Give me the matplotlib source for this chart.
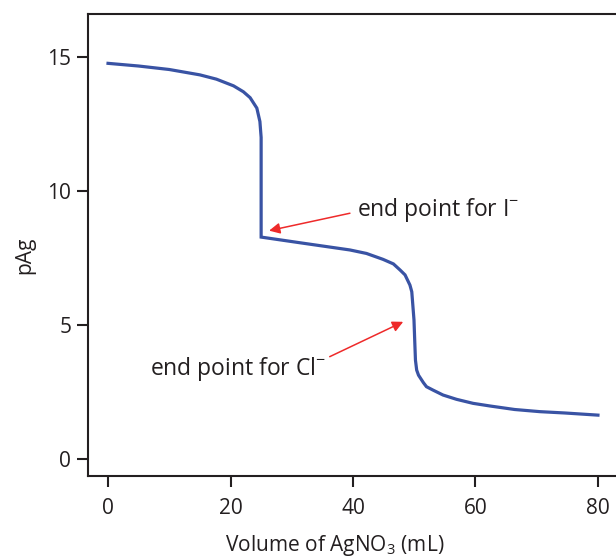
import matplotlib
matplotlib.use('Agg')
import matplotlib.pyplot as plt

plt.rcParams['font.family'] = ['Open Sans', 'DejaVu Sans']
plt.rcParams['mathtext.default'] = 'regular'

# values
volume = [0, 5, 10, 15, 17.7, 20.5, 22.1, 23.2, 24.3, 24.8, 25.0, 25.0, 25.0,
          31.3, 39.5, 42.2, 44.9, 46.6, 47.7, 48.5, 49.3, 49.6, 49.96, 50.1,
          50.2, 50.4, 50.7, 51.5, 52.0, 53.1, 54.7, 56.9, 59.6, 62.4, 66.4,
          70.5, 74.6, 80]
pag = [14.76, 14.66, 14.53, 14.33, 14.17, 13.92, 13.7, 13.48, 13.09, 12.59, 12.0, 10.0, 8.28,
       8.07, 7.8, 7.67, 7.45, 7.28, 7.05, 6.87, 6.49, 6.24, 5.19, 4.3,
       3.69, 3.32, 3.13, 2.85, 2.7, 2.57, 2.39, 2.23, 2.08, 1.98, 1.85,
       1.77, 1.72, 1.64]

xticks = [0, 20, 40, 60, 80]
yticks = [0, 5, 10, 15]

notes = ['end point for I$^{-}$', 'end point for Cl$^{-}$']
note_tails = [(39.5, 9.17), (36.2, 3.82)]
note_tips = [(26.3, 8.52), (48.2, 5.12)]
note_text_pos = [(40.6, 9.3), (6.8, 3.35)]

fig = plt.figure(figsize=(6.16, 5.59), dpi=100)
ax = fig.add_axes([88/616, 1-476/559, 532/616, 462/559])

ax.plot(volume, pag, color='#3953a4', lw=2.3, solid_joinstyle='miter')

for txt, tail, tip, pos in zip(notes, note_tails, note_tips, note_text_pos):
    ax.annotate('', xy=tip, xytext=tail,
                arrowprops=dict(arrowstyle='-|>', color='#ee2a2a', lw=1.1,
                                mutation_scale=16, shrinkA=0, shrinkB=0))
    ax.text(pos[0], pos[1], txt, fontsize=16.5, color='#231f20', va='center', ha='left')

ax.set_xlim(-3.27, 83.6)
ax.set_ylim(-0.63, 16.6)
ax.set_xticks(xticks)
ax.set_yticks(yticks)
ax.tick_params(direction='out', length=8, width=1.5, labelsize=15, colors='#231f20')
ax.tick_params(axis='x', pad=8)
ax.tick_params(axis='y', pad=4)
for s in ax.spines.values():
    s.set_linewidth(1.5)
    s.set_color('#231f20')

ax.set_xlabel('Volume of AgNO$_3$ (mL)', fontsize=15, color='#231f20')
ax.set_ylabel('pAg', fontsize=15, color='#231f20')
ax.xaxis.set_label_coords(0.464, -0.124)
ax.yaxis.set_label_coords(-0.0996, 0.478)

fig.savefig('out.png', dpi=100)
